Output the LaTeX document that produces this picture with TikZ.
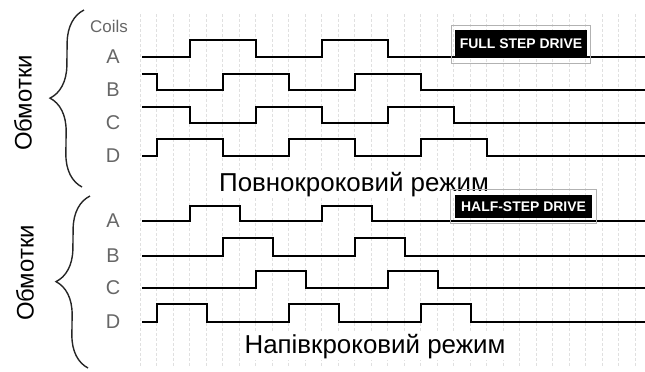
\documentclass[tikz,border=0pt]{standalone}
\usepackage{fontspec}
\setmainfont{Liberation Sans}
\usetikzlibrary{decorations.pathreplacing}

\begin{document}
\begin{tikzpicture}[
    x=1bp, y=-1bp,
    trace/.style={line width=2.2bp, black},
    coil/.style={text=black!60, font=\fontsize{20}{20}\selectfont},
    mode/.style={font=\fontsize{26}{26}\selectfont, fill=white, inner sep=2bp, anchor=base},
    winding/.style={rotate=90, font=\fontsize{24}{24}\selectfont},
    drive/.style={
        fill=black, text=white,
        font=\bfseries\fontsize{14}{14}\selectfont,
        inner sep=0pt
    },
    frame/.style={draw=black!30, line width=0.8bp},
    brace/.style={decorate, decoration={brace, amplitude=33bp}, line width=1.4bp, black!85},
    gridline/.style={black!12, densely dashed, line width=0.6bp}
]
\useasboundingbox (0,0) rectangle (645,371);

% faint scope grid
\foreach \k in {0,...,30}
    \draw[gridline] (140+16.5*\k,14) -- (140+16.5*\k,366);

% Full step
\node[coil, font=\fontsize{17}{17}\selectfont] (coils) at (109,26) {Coils};
\node[coil] (fa) at (113,57) {A};
\node[coil] (fb) at (113,90) {B};
\node[coil] (fc) at (113,123) {C};
\node[coil] (fd) at (113,156) {D};

\draw[trace] (142,57) -- (190,57) |- (256,40) |- (322,57) |- (388,40) |- (645,57);
\draw[trace] (142,74) -- (157,74) |- (223,90) |- (289,74) |- (355,90) |- (421,74) |- (645,90);
\draw[trace] (142,107) -- (190,107) |- (256,123) |- (322,107) |- (388,123) |- (454,107) |- (645,123);
\draw[trace] (142,156) -- (157,156) |- (223,139) |- (289,156) |- (355,139) |- (421,156) |- (487,139) |- (645,156);

\node[drive, minimum width=132bp, minimum height=28bp] (full) at (521,44) {FULL STEP DRIVE};
\draw[frame] ([shift={(-3,-4)}]full.north west) rectangle ([shift={(3,5)}]full.south east);

% Mode captions
\node[mode] (fullmode) at (354,191) {Повнокроковий режим};
\node[mode] (halfmode) at (375,353) {Напівкроковий режим};

% Half step
\node[coil] (ha) at (113,221) {A};
\node[coil] (hb) at (113,256) {B};
\node[coil] (hc) at (113,288) {C};
\node[coil] (hd) at (113,322) {D};

\draw[trace] (142,221) -- (190,221) |- (240,206) |- (322,221) |- (372,206) |- (645,221);
\draw[trace] (142,256) -- (223,256) |- (273,238) |- (355,256) |- (405,238) |- (645,256);
\draw[trace] (142,288) -- (256,288) |- (306,271) |- (388,288) |- (438,271) |- (645,288);
\draw[trace] (142,322) -- (157,322) |- (207,304) |- (289,322) |- (339,304) |- (421,322) |- (471,304) |- (645,322);

\node[drive, minimum width=137bp, minimum height=23bp] (half) at (523.5,206.5) {HALF-STEP DRIVE};
\draw[frame] ([shift={(-4,-5)}]half.north west) rectangle ([shift={(4,5)}]half.south east);

% Windings
\coordinate (ftop) at (84,10);
\coordinate (fbot) at (82,187);
\coordinate (htop) at (90,196);
\coordinate (hbot) at (88,368);
\draw[brace] (fbot) -- (ftop);
\draw[brace] (hbot) -- (htop);
\node[winding] (fwind) at (23,103) {Обмотки};
\node[winding] (hwind) at (25,273) {Обмотки};

\end{tikzpicture}
\end{document}
